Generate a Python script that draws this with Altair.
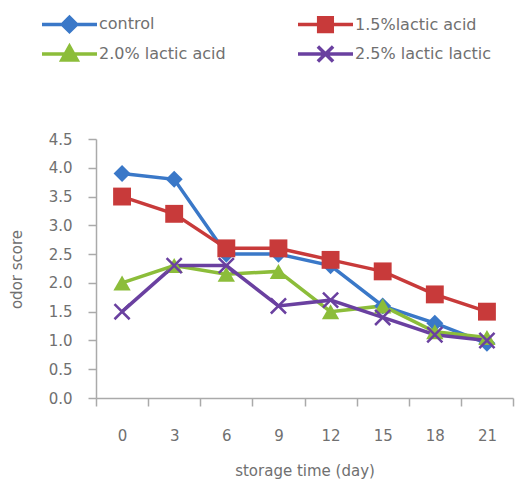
import altair as alt
import pandas as pd

days = [0, 3, 6, 9, 12, 15, 18, 21]
series_names = ["control", "1.5%lactic acid", "2.0% lactic acid", "2.5% lactic lactic"]
control = [3.9, 3.8, 2.5, 2.5, 2.3, 1.6, 1.3, 0.95]
lactic15 = [3.5, 3.2, 2.6, 2.6, 2.4, 2.2, 1.8, 1.5]
lactic20 = [2.0, 2.3, 2.15, 2.2, 1.5, 1.6, 1.15, 1.05]
lactic25 = [1.5, 2.3, 2.3, 1.6, 1.7, 1.4, 1.1, 1.0]
colors = ["#3a78c8", "#c83a3a", "#8cbd3a", "#6a40a0"]

values = [control, lactic15, lactic20, lactic25]
rows = []
for name, vals in zip(series_names, values):
    for d, v in zip(days, vals):
        rows.append({"day": d, "score": v, "series": name})
df = pd.DataFrame(rows)

FONT = "DejaVu Sans"
GREY = "#707070"

# legend symbols (stroke only): a line with the marker in its middle (unit = 8px)
m = -2.44
line = "M-5.875,0H1"


def diamond(h):
    return f"M{m-h:.3f},0L{m:.3f},{-h:.3f}L{m+h:.3f},0L{m:.3f},{h:.3f}Z"


def square(h):
    return f"M{m-h:.3f},{-h:.3f}H{m+h:.3f}V{h:.3f}H{m-h:.3f}Z"


def triangle(h):
    return f"M{m:.3f},{-h:.3f}L{m+h:.3f},{0.78*h:.3f}L{m-h:.3f},{0.78*h:.3f}Z"


leg_paths = [
    line + "".join(diamond(h) for h in (0.9, 0.5, 0.12)),
    line + "".join(square(h) for h in (0.85, 0.45, 0.08)),
    line + "".join(triangle(h) for h in (0.95, 0.5, 0.1)),
    line + f"M{m-0.95},-0.95L{m+0.95},0.95M{m-0.95},0.95L{m+0.95},-0.95",
]
marker_shapes = ["diamond", "square", "triangle-up", "M-1,-1L1,1M-1,1L1,-1"]
marker_sizes = [290, 320, 300, 230]

x_enc = alt.X(
    "day:O",
    sort=days,
    scale=alt.Scale(paddingInner=0, paddingOuter=0),
    axis=alt.Axis(
        title="storage time (day)",
        labelAngle=0,
        tickBand="extent",
        tickSize=8,
        labelPadding=22,
        titleY=72,
        titleBaseline="middle",
        titlePadding=0,
    ),
)
y_enc = alt.Y(
    "score:Q",
    scale=alt.Scale(domain=[0, 4.5], nice=False, zero=True),
    axis=alt.Axis(
        title="odor score",
        values=[0, 0.5, 1, 1.5, 2, 2.5, 3, 3.5, 4, 4.5],
        format=".1f",
        tickSize=8,
        labelPadding=16,
        grid=False,
        titleX=-80,
        titleY=130,
        titleAngle=270,
        titleAlign="center",
        titleBaseline="middle",
    ),
)
color_scale = alt.Scale(domain=series_names, range=colors)
color_plain = alt.Color("series:N", sort=series_names, scale=color_scale)

base = alt.Chart(df)

legend_layer = base.mark_point(filled=False, opacity=0).encode(
    x=x_enc,
    y=y_enc,
    color=alt.Color(
        "series:N",
        sort=series_names,
        scale=color_scale,
        legend=alt.Legend(
            title=None,
            orient="none",
            direction="horizontal",
            legendX=-17,
            legendY=-125,
            columns=2,
            columnPadding=65,
            rowPadding=0,
            symbolSize=256,
            symbolOpacity=1,
            symbolStrokeWidth=3.5,
            symbolFillColor="transparent",
            labelOffset=0,
            labelFontSize=16,
            labelFont=FONT,
            labelColor=GREY,
            labelLimit=300,
            padding=0,
        ),
    ),
    shape=alt.Shape(
        "series:N",
        sort=series_names,
        scale=alt.Scale(domain=series_names, range=leg_paths),
        legend=alt.Legend(title=None),
    ),
)

lines = base.mark_line(strokeWidth=3.5).encode(x=x_enc, y=y_enc, color=color_plain)

point_layers = []
for name, shp, sz in zip(series_names, marker_shapes, marker_sizes):
    is_x = shp.startswith("M")
    pl = (
        base.transform_filter(alt.datum.series == name)
        .mark_point(
            shape=shp,
            size=sz,
            filled=not is_x,
            strokeWidth=2.5 if is_x else 0,
            opacity=1,
        )
        .encode(x=x_enc, y=y_enc, color=color_plain)
    )
    point_layers.append(pl)

chart = (
    alt.layer(legend_layer, lines, *point_layers)
    .properties(
        width=417,
        height=259,
        autosize=alt.AutoSizeParams(type="none"),
        padding={"left": 96, "top": 139, "right": 18, "bottom": 93},
        background="white",
    )
    .configure_view(stroke=None)
    .configure_axis(
        domainColor="#aaaaaa",
        tickColor="#aaaaaa",
        domainWidth=1.5,
        tickWidth=1.5,
        labelFont=FONT,
        labelFontSize=15,
        labelColor=GREY,
        titleFont=FONT,
        titleFontSize=15,
        titleFontWeight="normal",
        titleColor=GREY,
    )
)

chart.save("out.html", embed_options={"renderer": "svg", "actions": False})
